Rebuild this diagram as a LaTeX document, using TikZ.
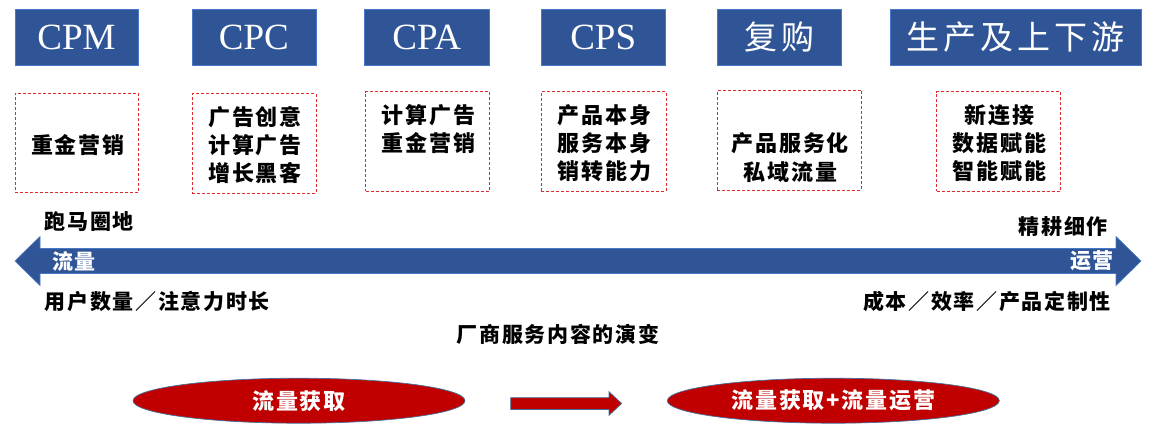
\documentclass[tikz,border=0pt]{standalone}
\usepackage{fontspec}
\setmainfont{Liberation Serif}
\newfontfamily\cjk{Noto Sans CJK SC}[LetterSpace=8]
\newfontfamily\cjkh{Noto Sans CJK SC}[LetterSpace=12]
\usetikzlibrary{shapes.geometric}
\definecolor{hblue}{HTML}{2F5597}
\definecolor{hedge}{HTML}{4A78C8}
\definecolor{dred}{HTML}{E0282D}
\definecolor{ered}{HTML}{C00000}
\definecolor{eedge}{HTML}{41719C}
\begin{document}
\begin{tikzpicture}[x=1pt,y=-1pt,
  head/.style={fill=hblue, draw=hedge, line width=0.6pt, text=white, inner sep=0pt, minimum height=55.7pt},
  hlat/.style={head, font=\fontsize{37}{40}\selectfont},
  hcjk/.style={head, font=\cjkh\fontsize{33}{38}\selectfont},
  dbox/.style={draw=dred, dash pattern=on 3pt off 2pt, line width=0.9pt, inner sep=0pt, minimum height=99.3pt},
  btxt/.style={font=\cjk\bfseries\fontsize{22}{28.3}\selectfont, align=center, inner sep=0pt},
  ltxt/.style={font=\cjk\bfseries\fontsize{21}{26}\selectfont, inner sep=0pt},
  wtxt/.style={font=\cjk\bfseries\fontsize{21}{26}\selectfont, inner sep=0pt, text=white},
  ell/.style={ellipse, fill=ered, draw=eedge, line width=0.7pt, inner sep=0pt, minimum width=332pt, minimum height=45pt, text=white, font=\cjk\bfseries\fontsize{22}{26}\selectfont}
]
\useasboundingbox (0,0) rectangle (1163,424);

% header boxes
\node[hlat, minimum width=123pt] (h1) at (76.5,37.2) {CPM};
\node[hlat, minimum width=124pt] (h2) at (253.9,37.2) {CPC};
\node[hlat, minimum width=124.7pt] (h3) at (426.7,37.2) {CPA};
\node[hlat, minimum width=124.3pt] (h4) at (603.2,37.2) {CPS};
\node[hcjk, minimum width=124.7pt] (h5) at (779.4,37.2) {复购};
\node[hcjk, minimum width=250.7pt] (h6) at (1015.7,37.2) {生产及上下游};

% dashed boxes
\node[dbox, minimum width=123.7pt, minimum height=99pt] (d1) at (76.9,143.2) {};
\node[dbox, minimum width=123.7pt] (d2) at (254.2,143.4) {};
\node[dbox, minimum width=124pt] (d3) at (427.6,141.4) {};
\node[dbox, minimum width=124.7pt] (d4) at (603.7,141.4) {};
\node[dbox, minimum width=144.4pt, minimum height=99.7pt] (d5) at (789.5,140.2) {};
\node[dbox, minimum width=124pt] (d6) at (998.7,141.4) {};

\node[btxt] (t1) at (77.8,145) {重金营销};
\node[btxt] (t2) at (255.1,145) {广告创意\\计算广告\\增长黑客};
\node[btxt] (t3) at (428.5,129.2) {计算广告\\重金营销};
\node[btxt] (t4) at (604.6,143.3) {产品本身\\服务本身\\销转能力};
\node[btxt] (t5) at (790.4,157.5) {产品服务化\\私域流量};
\node[btxt] (t6) at (999.6,143) {新连接\\数据赋能\\智能赋能};

% big double arrow
\draw[fill=hblue, draw=hedge, line width=0.6pt] (15,261) -- (40,236.5) -- (40,248.5) -- (1116,248.5) -- (1116,236.5) -- (1141,261) -- (1116,285.5) -- (1116,273.5) -- (40,273.5) -- (40,285.5) -- cycle;
\node[wtxt, anchor=west] (lflow) at (52,261) {流量};
\node[wtxt, anchor=east] (lops) at (1114,261) {运营};

\node[ltxt, anchor=west] (a1) at (44.5,222) {跑马圈地};
\node[ltxt, anchor=east] (a2) at (1108,226.5) {精耕细作};
\node[ltxt, anchor=west] (a3) at (44.5,301) {用户数量／注意力时长};
\node[ltxt, anchor=east] (a4) at (1111,301) {成本／效率／产品定制性};
\node[ltxt] (title) at (558,334) {厂商服务内容的演变};

% bottom
\node[ell] (e1) at (299,400.7) {流量获取};
\node[ell] (e2) at (833.3,400.7) {流量获取+流量运营};
\draw[fill=ered, draw=eedge, line width=0.7pt] (510.7,397.7) -- (609,397.7) -- (609,391.7) -- (621.7,403.5) -- (609,415.3) -- (609,409.5) -- (510.7,409.5) -- cycle;
\end{tikzpicture}
\end{document}
